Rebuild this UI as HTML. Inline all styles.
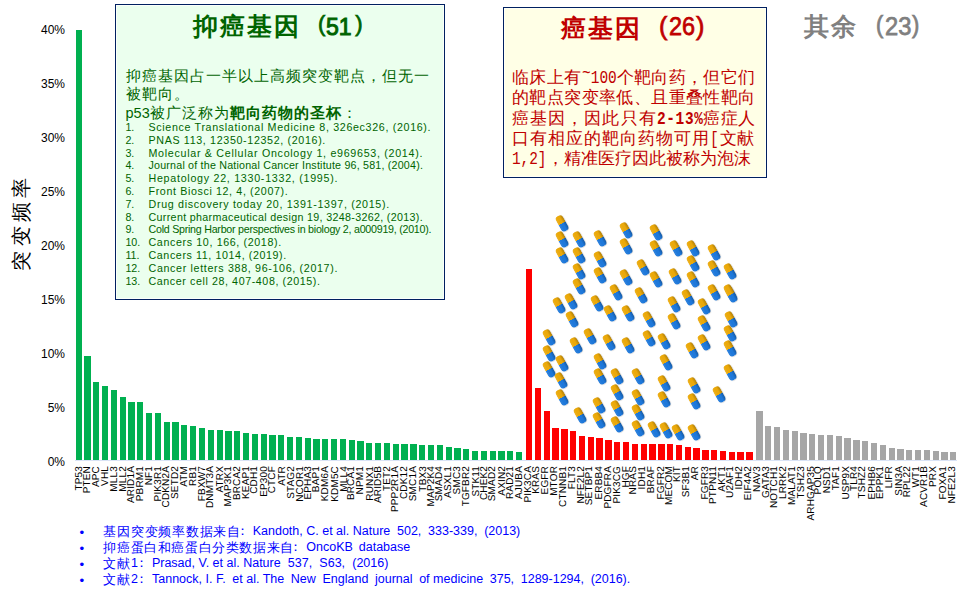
<!DOCTYPE html>
<html lang="zh"><head><meta charset="utf-8"><title>突变频率</title>
<style>
html,body{margin:0;padding:0;background:#fff;}
body{width:960px;height:596px;position:relative;overflow:hidden;font-family:"Liberation Sans",sans-serif;}
.abs{position:absolute;white-space:nowrap;}
.bar{position:absolute;width:6px;}
.g{background:#00B050;}
.r{background:#FF0000;}
.y{background:#A6A6A6;}
.xl{position:absolute;top:466px;height:10px;line-height:10px;font-size:10px;color:#000;white-space:nowrap;transform-origin:100% 0;transform:rotate(-90deg) scaleY(1);text-rendering:geometricPrecision;letter-spacing:0.15px;text-align:right;}
.yl{position:absolute;right:895px;width:40px;text-align:right;font-size:12px;line-height:12px;color:#000;}
.axis{position:absolute;left:75px;top:460px;width:882px;height:1px;background:#D9E3F6;}
.ln{position:absolute;white-space:nowrap;transform-origin:0 50%;}
.pill{position:absolute;width:7.6px;height:16.6px;border-radius:3.8px;margin:-8.3px 0 0 -3.8px;transform:rotate(-29deg);background:linear-gradient(to right,rgba(255,255,255,.10) 0,rgba(255,255,255,0) 35%,rgba(0,0,0,0) 60%,rgba(0,0,0,.25) 100%),linear-gradient(to bottom,#EBA90A 0,#EBA90A 49%,#1E78DA 51%,#1E78DA 100%);box-shadow:0.4px 0.5px 0.8px rgba(70,70,70,.3);}
#gbox{position:absolute;left:115px;top:4px;width:328px;height:294px;border:1px solid #002060;background:#EBFFEE;box-shadow:inset 0 0 0 1px #FBFFFB;}
#rbox{position:absolute;left:503px;top:7px;width:262px;height:169px;border:1px solid #002060;background:#FFFFE6;box-shadow:inset 0 0 0 1px #FFFFF6;}
.gt{color:#006400;font-weight:bold;font-size:25px;line-height:30px;letter-spacing:1.9px;}
.gb{color:#006400;font-size:15px;line-height:18px;letter-spacing:1px;}
.gb i{font-style:normal;letter-spacing:0;font-size:14.5px;}
.gr{color:#006400;font-size:10.7px;line-height:13px;}
.rt{color:#C00000;font-weight:bold;font-size:25px;letter-spacing:2px;line-height:30px;font-family:"Liberation Serif",serif;}
.rb{color:#C00000;font-size:17px;line-height:20px;font-family:"Liberation Serif",serif;}
.ot{color:#808080;font-weight:bold;font-size:25px;letter-spacing:2px;line-height:30px;font-family:"Liberation Serif",serif;}
.tl{font-weight:normal !important;-webkit-text-stroke:0.75px currentColor;}
.tn{font-family:"Liberation Sans",sans-serif;font-weight:bold;font-size:26.67px;letter-spacing:0;transform-origin:0 50%;}
.mo{position:absolute;white-space:nowrap;font-family:"Liberation Mono",monospace;font-size:18px;line-height:20px;color:#C00000;transform-origin:0 50%;transform:scaleX(0.8025);}
.fn{color:#0000FF;font-size:13.33px;line-height:16px;}
.fc{font-size:13px;}
.fl{font-size:12.5px;}
.yt{position:absolute;left:21.4px;top:221.5px;width:0;height:0;}
.yt span{position:absolute;white-space:nowrap;font-size:20px;line-height:20px;letter-spacing:4.3px;color:#000;transform:translate(-50%,-50%) rotate(-90deg);}
</style></head><body>
<div class="yl" style="top:23.5px">40%</div>
<div class="yl" style="top:77.5px">35%</div>
<div class="yl" style="top:131.5px">30%</div>
<div class="yl" style="top:185.5px">25%</div>
<div class="yl" style="top:239.5px">20%</div>
<div class="yl" style="top:293.5px">15%</div>
<div class="yl" style="top:347.5px">10%</div>
<div class="yl" style="top:401.5px">5%</div>
<div class="yl" style="top:455.5px">0%</div>
<div class="yt"><span>突变频率</span></div>
<div class="axis"></div>
<div class="bar g" style="left:76px;width:6px;top:30px;height:430px"></div><div class="bar g" style="left:84px;width:7px;top:356px;height:104px"></div><div class="bar g" style="left:93px;width:6px;top:382px;height:78px"></div><div class="bar g" style="left:102px;width:6px;top:386px;height:74px"></div><div class="bar g" style="left:111px;width:6px;top:390px;height:70px"></div><div class="bar g" style="left:120px;width:6px;top:397px;height:63px"></div><div class="bar g" style="left:128px;width:7px;top:402px;height:58px"></div><div class="bar g" style="left:137px;width:6px;top:402px;height:58px"></div><div class="bar g" style="left:146px;width:6px;top:413px;height:47px"></div><div class="bar g" style="left:155px;width:6px;top:413px;height:47px"></div><div class="bar g" style="left:164px;width:6px;top:422px;height:38px"></div><div class="bar g" style="left:172px;width:7px;top:422px;height:38px"></div><div class="bar g" style="left:181px;width:6px;top:425px;height:35px"></div><div class="bar g" style="left:190px;width:6px;top:426px;height:34px"></div><div class="bar g" style="left:199px;width:6px;top:428px;height:32px"></div><div class="bar g" style="left:208px;width:6px;top:430px;height:30px"></div><div class="bar g" style="left:217px;width:6px;top:430px;height:30px"></div><div class="bar g" style="left:225px;width:7px;top:431px;height:29px"></div><div class="bar g" style="left:234px;width:6px;top:431px;height:29px"></div><div class="bar g" style="left:243px;width:6px;top:433px;height:27px"></div><div class="bar g" style="left:252px;width:6px;top:434px;height:26px"></div><div class="bar g" style="left:261px;width:6px;top:434px;height:26px"></div><div class="bar g" style="left:269px;width:7px;top:435px;height:25px"></div><div class="bar g" style="left:278px;width:6px;top:435px;height:25px"></div><div class="bar g" style="left:287px;width:6px;top:437px;height:23px"></div><div class="bar g" style="left:296px;width:6px;top:437px;height:23px"></div><div class="bar g" style="left:305px;width:6px;top:438px;height:22px"></div><div class="bar g" style="left:313px;width:7px;top:439px;height:21px"></div><div class="bar g" style="left:322px;width:6px;top:439px;height:21px"></div><div class="bar g" style="left:331px;width:6px;top:439px;height:21px"></div><div class="bar g" style="left:340px;width:6px;top:439px;height:21px"></div><div class="bar g" style="left:349px;width:6px;top:440px;height:20px"></div><div class="bar g" style="left:357px;width:7px;top:441px;height:19px"></div><div class="bar g" style="left:366px;width:6px;top:443px;height:17px"></div><div class="bar g" style="left:375px;width:6px;top:443px;height:17px"></div><div class="bar g" style="left:384px;width:6px;top:443px;height:17px"></div><div class="bar g" style="left:393px;width:6px;top:444px;height:16px"></div><div class="bar g" style="left:401px;width:7px;top:444px;height:16px"></div><div class="bar g" style="left:410px;width:7px;top:444px;height:16px"></div><div class="bar g" style="left:419px;width:6px;top:445px;height:15px"></div><div class="bar g" style="left:428px;width:6px;top:445px;height:15px"></div><div class="bar g" style="left:437px;width:6px;top:445px;height:15px"></div><div class="bar g" style="left:446px;width:6px;top:447px;height:13px"></div><div class="bar g" style="left:454px;width:7px;top:448px;height:12px"></div><div class="bar g" style="left:463px;width:6px;top:449px;height:11px"></div><div class="bar g" style="left:472px;width:6px;top:451px;height:9px"></div><div class="bar g" style="left:481px;width:6px;top:451px;height:9px"></div><div class="bar g" style="left:490px;width:6px;top:451px;height:9px"></div><div class="bar g" style="left:498px;width:7px;top:451px;height:9px"></div><div class="bar g" style="left:507px;width:6px;top:451px;height:9px"></div><div class="bar g" style="left:516px;width:6px;top:452px;height:8px"></div><div class="bar r" style="left:526px;width:6px;top:269px;height:191px"></div><div class="bar r" style="left:535px;width:6px;top:388px;height:72px"></div><div class="bar r" style="left:544px;width:6px;top:411px;height:49px"></div><div class="bar r" style="left:552px;width:7px;top:428px;height:32px"></div><div class="bar r" style="left:561px;width:7px;top:429px;height:31px"></div><div class="bar r" style="left:570px;width:6px;top:431px;height:29px"></div><div class="bar r" style="left:579px;width:6px;top:436px;height:24px"></div><div class="bar r" style="left:588px;width:6px;top:437px;height:23px"></div><div class="bar r" style="left:596px;width:7px;top:438px;height:22px"></div><div class="bar r" style="left:605px;width:7px;top:440px;height:20px"></div><div class="bar r" style="left:614px;width:6px;top:442px;height:18px"></div><div class="bar r" style="left:623px;width:6px;top:442px;height:18px"></div><div class="bar r" style="left:632px;width:6px;top:444px;height:16px"></div><div class="bar r" style="left:641px;width:6px;top:444px;height:16px"></div><div class="bar r" style="left:649px;width:7px;top:444px;height:16px"></div><div class="bar r" style="left:658px;width:7px;top:444px;height:16px"></div><div class="bar r" style="left:667px;width:6px;top:444px;height:16px"></div><div class="bar r" style="left:676px;width:6px;top:445px;height:15px"></div><div class="bar r" style="left:685px;width:6px;top:447px;height:13px"></div><div class="bar r" style="left:693px;width:7px;top:448px;height:12px"></div><div class="bar r" style="left:702px;width:7px;top:450px;height:10px"></div><div class="bar r" style="left:711px;width:6px;top:450px;height:10px"></div><div class="bar r" style="left:720px;width:6px;top:451px;height:9px"></div><div class="bar r" style="left:729px;width:6px;top:452px;height:8px"></div><div class="bar r" style="left:737px;width:7px;top:452px;height:8px"></div><div class="bar r" style="left:746px;width:7px;top:452px;height:8px"></div><div class="bar y" style="left:756px;width:7px;top:411px;height:49px"></div><div class="bar y" style="left:765px;width:6px;top:426px;height:34px"></div><div class="bar y" style="left:774px;width:6px;top:427px;height:33px"></div><div class="bar y" style="left:783px;width:6px;top:430px;height:30px"></div><div class="bar y" style="left:792px;width:6px;top:431px;height:29px"></div><div class="bar y" style="left:800px;width:7px;top:433px;height:27px"></div><div class="bar y" style="left:809px;width:6px;top:434px;height:26px"></div><div class="bar y" style="left:818px;width:6px;top:435px;height:25px"></div><div class="bar y" style="left:827px;width:6px;top:435px;height:25px"></div><div class="bar y" style="left:836px;width:6px;top:436px;height:24px"></div><div class="bar y" style="left:844px;width:7px;top:438px;height:22px"></div><div class="bar y" style="left:853px;width:7px;top:440px;height:20px"></div><div class="bar y" style="left:862px;width:6px;top:441px;height:19px"></div><div class="bar y" style="left:871px;width:6px;top:443px;height:17px"></div><div class="bar y" style="left:880px;width:6px;top:445px;height:15px"></div><div class="bar y" style="left:889px;width:6px;top:448px;height:12px"></div><div class="bar y" style="left:897px;width:7px;top:449px;height:11px"></div><div class="bar y" style="left:906px;width:6px;top:450px;height:10px"></div><div class="bar y" style="left:915px;width:6px;top:450px;height:10px"></div><div class="bar y" style="left:924px;width:6px;top:450px;height:10px"></div><div class="bar y" style="left:933px;width:6px;top:451px;height:9px"></div><div class="bar y" style="left:941px;width:7px;top:452px;height:8px"></div><div class="bar y" style="left:950px;width:6px;top:452px;height:8px"></div>
<div class="xl" style="right:885.70px">TP53</div><div class="xl" style="right:876.70px">PTEN</div><div class="xl" style="right:867.70px">APC</div><div class="xl" style="right:858.70px">VHL</div><div class="xl" style="right:850.70px">MLL3</div><div class="xl" style="right:841.70px">MLL2</div><div class="xl" style="right:832.70px">ARID1A</div><div class="xl" style="right:823.70px">PBRM1</div><div class="xl" style="right:814.70px">NF1</div><div class="xl" style="right:805.70px">PIK3R1</div><div class="xl" style="right:797.70px">CDKN2A</div><div class="xl" style="right:788.70px">SETD2</div><div class="xl" style="right:779.70px">ATM</div><div class="xl" style="right:770.70px">RB1</div><div class="xl" style="right:761.70px">FBXW7</div><div class="xl" style="right:753.70px">DNMT3A</div><div class="xl" style="right:744.70px">ATRX</div><div class="xl" style="right:735.70px">MAP3K1</div><div class="xl" style="right:726.70px">BRCA2</div><div class="xl" style="right:717.70px">KEAP1</div><div class="xl" style="right:709.70px">CDH1</div><div class="xl" style="right:700.70px">EP300</div><div class="xl" style="right:691.70px">CTCF</div><div class="xl" style="right:682.70px">ATR</div><div class="xl" style="right:673.70px">STAG2</div><div class="xl" style="right:664.70px">NCOR1</div><div class="xl" style="right:656.70px">EPHA3</div><div class="xl" style="right:647.70px">BAP1</div><div class="xl" style="right:638.70px">KDM6A</div><div class="xl" style="right:629.70px">KDM5C</div><div class="xl" style="right:620.70px">MLL4</div><div class="xl" style="right:612.70px">BRCA1</div><div class="xl" style="right:603.70px">NPM1</div><div class="xl" style="right:594.70px">RUNX1</div><div class="xl" style="right:585.70px">ARID5B</div><div class="xl" style="right:576.70px">TET2</div><div class="xl" style="right:568.70px">PPP2R1A</div><div class="xl" style="right:559.70px">CDK12</div><div class="xl" style="right:550.70px">SMC1A</div><div class="xl" style="right:541.70px">TBX3</div><div class="xl" style="right:532.70px">MAP2K4</div><div class="xl" style="right:524.70px">SMAD4</div><div class="xl" style="right:515.70px">ASXL1</div><div class="xl" style="right:506.70px">SMC3</div><div class="xl" style="right:497.70px">TGFBR2</div><div class="xl" style="right:488.70px">STK11</div><div class="xl" style="right:479.70px">CHEK2</div><div class="xl" style="right:471.70px">SMAD2</div><div class="xl" style="right:462.70px">AXIN2</div><div class="xl" style="right:453.70px">RAD21</div><div class="xl" style="right:444.70px">AJUBA</div><div class="xl" style="right:435.70px">PIK3CA</div><div class="xl" style="right:427.70px">KRAS</div><div class="xl" style="right:418.70px">EGFR</div><div class="xl" style="right:409.70px">MTOR</div><div class="xl" style="right:400.70px">CTNNB1</div><div class="xl" style="right:391.70px">FLT3</div><div class="xl" style="right:383.70px">NFE2L2</div><div class="xl" style="right:374.70px">SETBP1</div><div class="xl" style="right:365.70px">ERBB4</div><div class="xl" style="right:356.70px">PDGFRA</div><div class="xl" style="right:347.70px">PIK3CG</div><div class="xl" style="right:338.70px">HGF</div><div class="xl" style="right:330.70px">NRAS</div><div class="xl" style="right:321.70px">IDH1</div><div class="xl" style="right:312.70px">BRAF</div><div class="xl" style="right:303.70px">FGFR2</div><div class="xl" style="right:294.70px">MECOM</div><div class="xl" style="right:286.70px">KIT</div><div class="xl" style="right:277.70px">SF3B1</div><div class="xl" style="right:268.70px">AR</div><div class="xl" style="right:259.70px">FGFR3</div><div class="xl" style="right:250.70px">PTPN11</div><div class="xl" style="right:242.70px">AKT1</div><div class="xl" style="right:233.70px">U2AF1</div><div class="xl" style="right:224.70px">IDH2</div><div class="xl" style="right:215.70px">EIF4A2</div><div class="xl" style="right:206.70px">NAV3</div><div class="xl" style="right:197.70px">GATA3</div><div class="xl" style="right:189.70px">NOTCH1</div><div class="xl" style="right:180.70px">LRRK2</div><div class="xl" style="right:171.70px">MALAT1</div><div class="xl" style="right:162.70px">TSHZ3</div><div class="xl" style="right:153.70px">ARHGAP35</div><div class="xl" style="right:145.70px">POLQ</div><div class="xl" style="right:136.70px">NSD1</div><div class="xl" style="right:127.70px">TAF1</div><div class="xl" style="right:118.70px">USP9X</div><div class="xl" style="right:109.70px">TLR4</div><div class="xl" style="right:101.70px">TSHZ2</div><div class="xl" style="right:92.70px">EPHB6</div><div class="xl" style="right:83.70px">EPPK1</div><div class="xl" style="right:74.70px">LIFR</div><div class="xl" style="right:65.70px">SIN3A</div><div class="xl" style="right:56.70px">RPL22</div><div class="xl" style="right:48.70px">WT1</div><div class="xl" style="right:39.70px">ACVR1B</div><div class="xl" style="right:30.70px">PRX</div><div class="xl" style="right:21.70px">FOXA1</div><div class="xl" style="right:12.70px">NFE2L3</div>
<i class="pill" style="left:561.6px;top:223.7px"></i><i class="pill" style="left:561.6px;top:239.5px"></i><i class="pill" style="left:561.6px;top:255.2px"></i><i class="pill" style="left:579.1px;top:239.5px"></i><i class="pill" style="left:579.1px;top:255.2px"></i><i class="pill" style="left:579.1px;top:270.9px"></i><i class="pill" style="left:579.1px;top:286.6px"></i><i class="pill" style="left:599.5px;top:238.6px"></i><i class="pill" style="left:600.1px;top:259.2px"></i><i class="pill" style="left:600.1px;top:274.9px"></i><i class="pill" style="left:625.5px;top:230.4px"></i><i class="pill" style="left:625.5px;top:246.1px"></i><i class="pill" style="left:625.5px;top:277.5px"></i><i class="pill" style="left:643.0px;top:267.1px"></i><i class="pill" style="left:615.8px;top:291.8px"></i><i class="pill" style="left:640.8px;top:295.4px"></i><i class="pill" style="left:559.0px;top:305.1px"></i><i class="pill" style="left:571.1px;top:301.7px"></i><i class="pill" style="left:572.0px;top:319.0px"></i><i class="pill" style="left:596.6px;top:302.9px"></i><i class="pill" style="left:609.7px;top:313.4px"></i><i class="pill" style="left:627.3px;top:313.4px"></i><i class="pill" style="left:648.3px;top:319.0px"></i><i class="pill" style="left:655.3px;top:232.2px"></i><i class="pill" style="left:655.3px;top:247.9px"></i><i class="pill" style="left:675.7px;top:247.9px"></i><i class="pill" style="left:693.2px;top:247.9px"></i><i class="pill" style="left:714.1px;top:252.1px"></i><i class="pill" style="left:693.2px;top:263.6px"></i><i class="pill" style="left:714.1px;top:267.9px"></i><i class="pill" style="left:729.5px;top:270.9px"></i><i class="pill" style="left:655.3px;top:279.3px"></i><i class="pill" style="left:675.1px;top:276.1px"></i><i class="pill" style="left:693.2px;top:279.3px"></i><i class="pill" style="left:714.1px;top:291.8px"></i><i class="pill" style="left:729.6px;top:292.4px"></i><i class="pill" style="left:730.3px;top:294.6px"></i><i class="pill" style="left:687.7px;top:297.3px"></i><i class="pill" style="left:673.6px;top:304.3px"></i><i class="pill" style="left:703.5px;top:306.1px"></i><i class="pill" style="left:674.0px;top:321.3px"></i><i class="pill" style="left:703.8px;top:322.8px"></i><i class="pill" style="left:730.5px;top:318.8px"></i><i class="pill" style="left:549.1px;top:337.3px"></i><i class="pill" style="left:549.1px;top:353.0px"></i><i class="pill" style="left:549.1px;top:368.8px"></i><i class="pill" style="left:562.0px;top:363.1px"></i><i class="pill" style="left:560.8px;top:380.6px"></i><i class="pill" style="left:561.4px;top:396.8px"></i><i class="pill" style="left:575.9px;top:344.8px"></i><i class="pill" style="left:589.8px;top:335.9px"></i><i class="pill" style="left:609.1px;top:341.8px"></i><i class="pill" style="left:627.3px;top:344.8px"></i><i class="pill" style="left:599.7px;top:360.9px"></i><i class="pill" style="left:599.7px;top:376.6px"></i><i class="pill" style="left:617.2px;top:376.6px"></i><i class="pill" style="left:637.5px;top:376.0px"></i><i class="pill" style="left:617.2px;top:392.3px"></i><i class="pill" style="left:638.2px;top:396.8px"></i><i class="pill" style="left:599.1px;top:405.0px"></i><i class="pill" style="left:617.2px;top:408.2px"></i><i class="pill" style="left:638.2px;top:412.5px"></i><i class="pill" style="left:579.7px;top:415.1px"></i><i class="pill" style="left:599.1px;top:420.7px"></i><i class="pill" style="left:617.2px;top:424.0px"></i><i class="pill" style="left:638.2px;top:428.2px"></i><i class="pill" style="left:648.5px;top:337.9px"></i><i class="pill" style="left:663.6px;top:341.2px"></i><i class="pill" style="left:691.8px;top:349.8px"></i><i class="pill" style="left:703.7px;top:342.4px"></i><i class="pill" style="left:729.9px;top:332.9px"></i><i class="pill" style="left:729.9px;top:348.6px"></i><i class="pill" style="left:665.8px;top:362.7px"></i><i class="pill" style="left:729.9px;top:372.6px"></i><i class="pill" style="left:663.6px;top:383.7px"></i><i class="pill" style="left:693.4px;top:385.5px"></i><i class="pill" style="left:719.0px;top:394.7px"></i><i class="pill" style="left:663.6px;top:399.4px"></i><i class="pill" style="left:693.4px;top:401.2px"></i><i class="pill" style="left:653.7px;top:429.4px"></i><i class="pill" style="left:665.6px;top:430.6px"></i><i class="pill" style="left:677.9px;top:432.4px"></i><i class="pill" style="left:693.4px;top:432.4px"></i>
<div id="gbox"></div>
<div class="abs gt" id="gt1" style="left:193px;top:11px;">抑癌基因</div><div class="abs gt tn tl" id="gt2" style="font-size:22px;left:318px;top:9.2px;">(</div><div class="abs gt tn tl" id="gt3" style="-webkit-text-stroke-width:1px;font-size:24px;left:326.3px;top:12px;transform:scaleX(0.96)">51</div><div class="abs gt tn tl" id="gt4" style="font-size:22px;left:355.3px;top:9.2px;">)</div>
<div class="abs gb" id="gb1" style="left:125.5px;top:66.5px;">抑癌基因占一半以上高频突变靶点，但无一</div>
<div class="abs gb" id="gb2" style="left:125.5px;top:84.7px;">被靶向。</div>
<div class="abs gb" id="gb3" style="left:125.5px;top:104px;"><i>p53</i>被广泛称为<b>靶向药物的圣杯</b>：</div>
<div class="ln gr" id="rn0" style="left:125.4px;top:120.9px;transform:scaleX(1.0000)">1.</div><div class="ln gr" id="rf0" style="left:148.5px;top:120.9px;letter-spacing:0.662px">Science Translational Medicine 8, 326ec326, (2016).</div>
<div class="ln gr" id="rn1" style="left:125.4px;top:133.7px;transform:scaleX(1.0000)">2.</div><div class="ln gr" id="rf1" style="left:148.5px;top:133.7px;letter-spacing:0.655px">PNAS 113, 12350-12352, (2016).</div>
<div class="ln gr" id="rn2" style="left:125.4px;top:146.5px;transform:scaleX(1.0000)">3.</div><div class="ln gr" id="rf2" style="left:148.5px;top:146.5px;letter-spacing:0.706px">Molecular &amp; Cellular Oncology 1, e969653, (2014).</div>
<div class="ln gr" id="rn3" style="left:125.4px;top:159.3px;transform:scaleX(1.0000)">4.</div><div class="ln gr" id="rf3" style="left:148.5px;top:159.3px;letter-spacing:0.200px">Journal of the National Cancer Institute 96, 581, (2004).</div>
<div class="ln gr" id="rn4" style="left:125.4px;top:172.1px;transform:scaleX(1.0000)">5.</div><div class="ln gr" id="rf4" style="left:148.5px;top:172.1px;letter-spacing:0.722px">Hepatology 22, 1330-1332, (1995).</div>
<div class="ln gr" id="rn5" style="left:125.4px;top:184.9px;transform:scaleX(1.0000)">6.</div><div class="ln gr" id="rf5" style="left:148.5px;top:184.9px;letter-spacing:0.623px">Front Biosci 12, 4, (2007).</div>
<div class="ln gr" id="rn6" style="left:125.4px;top:197.7px;transform:scaleX(1.0000)">7.</div><div class="ln gr" id="rf6" style="left:148.5px;top:197.7px;letter-spacing:0.681px">Drug discovery today 20, 1391-1397, (2015).</div>
<div class="ln gr" id="rn7" style="left:125.4px;top:210.5px;transform:scaleX(1.0000)">8.</div><div class="ln gr" id="rf7" style="left:148.5px;top:210.5px;letter-spacing:0.333px">Current pharmaceutical design 19, 3248-3262, (2013).</div>
<div class="ln gr" id="rn8" style="left:125.4px;top:223.3px;transform:scaleX(1.0000)">9.</div><div class="ln gr" id="rf8" style="left:148.5px;top:223.3px;letter-spacing:-0.260px">Cold Spring Harbor perspectives in biology 2, a000919, (2010).</div>
<div class="ln gr" id="rn9" style="left:125.4px;top:236.1px;transform:scaleX(1.0000)">10.</div><div class="ln gr" id="rf9" style="left:148.5px;top:236.1px;letter-spacing:0.628px">Cancers 10, 166, (2018).</div>
<div class="ln gr" id="rn10" style="left:125.4px;top:248.9px;transform:scaleX(1.0000)">11.</div><div class="ln gr" id="rf10" style="left:148.5px;top:248.9px;letter-spacing:0.597px">Cancers 11, 1014, (2019).</div>
<div class="ln gr" id="rn11" style="left:125.4px;top:261.7px;transform:scaleX(1.0000)">12.</div><div class="ln gr" id="rf11" style="left:148.5px;top:261.7px;letter-spacing:0.664px">Cancer letters 388, 96-106, (2017).</div>
<div class="ln gr" id="rn12" style="left:125.4px;top:274.5px;transform:scaleX(1.0000)">13.</div><div class="ln gr" id="rf12" style="left:148.5px;top:274.5px;letter-spacing:0.585px">Cancer cell 28, 407-408, (2015).</div>
<div id="rbox"></div>
<div class="abs rt" id="rt1" style="left:561px;top:14px;">癌基因</div><div class="abs rt tn tl" id="rt2" style="left:659px;top:11px;transform:scaleX(0.95)">(</div><div class="abs rt tn tl" id="rt3" style="left:668.5px;top:11px;transform:scaleX(0.88)">26</div><div class="abs rt tn tl" id="rt4" style="left:696px;top:11px;transform:scaleX(0.95)">)</div>
<div class="ln rb" style="left:512.10px;top:68.0px;letter-spacing:0.400px">临床上有</div><div class="mo" style="left:581.70px;top:68.0px;letter-spacing:0.041px"><span style="position:relative;top:-5px">~</span>100</div><div class="ln rb" style="left:616.50px;top:68.0px;letter-spacing:0.400px">个靶向药，但它们</div>
<div class="ln rb" style="left:512.10px;top:88.3px;letter-spacing:0.400px">的靶点突变率低、且重叠性靶向</div>
<div class="ln rb" style="left:512.10px;top:108.6px;letter-spacing:1.080px">癌基因，因此只有</div><div class="mo" style="left:656.74px;top:108.6px;font-weight:bold;letter-spacing:0.789px">2-13%</div><div class="ln rb" style="left:703.24px;top:108.6px;letter-spacing:0.400px">癌症人</div>
<div class="ln rb" style="left:512.10px;top:128.9px;letter-spacing:1.000px">口有相应的靶向药物可用</div><div class="mo" style="left:710.10px;top:128.9px;letter-spacing:1.163px">[</div><div class="ln rb" style="left:719.70px;top:128.9px;letter-spacing:0.400px">文献</div>
<div class="mo" style="left:512.10px;top:149.2px;letter-spacing:-0.083px">1,2]</div><div class="ln rb" style="left:546.50px;top:149.2px;letter-spacing:0.070px">，精准医疗因此被称为泡沫</div>
<div class="abs ot" id="ot1" style="left:804px;top:12px;">其余</div><div class="abs ot tn tl" id="ot2" style="font-size:23px;left:875.6px;top:9.8px;transform:scaleX(0.95)">(</div><div class="abs ot tn tl" id="ot3" style="font-size:25.5px;left:884.5px;top:11px;transform:scaleX(0.93)">23</div><div class="abs ot tn tl" id="ot4" style="font-size:23px;left:912px;top:9.8px;transform:scaleX(0.95)">)</div>
<div class="abs fn" style="left:79.5px;top:524.6px;">•</div><div class="abs fn fc" style="left:103.4px;top:523.9px;letter-spacing:0.75px">基因突变频率数据来自</div><div class="abs fn fc" style="left:236.00px;top:523.2px;">：</div><div class="abs fn fl" id="fn0" style="left:252.7px;top:523.2px;">Kandoth, C. et al. Nature<span style="word-spacing:3.236px"> </span>502,<span style="word-spacing:3.236px"> </span>333-339,<span style="word-spacing:3.236px"> </span>(2013)</div>
<div class="abs fn" style="left:79.5px;top:540.7px;">•</div><div class="abs fn fc" style="left:103.4px;top:539.9px;letter-spacing:0.60px">抑癌蛋白和癌蛋白分类数据来自</div><div class="abs fn fc" style="left:289.15px;top:539.3px;">：</div><div class="abs fn fl" id="fn1" style="left:306.3px;top:539.3px;">OncoKB<span style="word-spacing:2.416px"> </span>database</div>
<div class="abs fn" style="left:79.5px;top:556.8px;">•</div><div class="abs fn fc" style="left:103.4px;top:556.0px;letter-spacing:1.10px">文献</div><div class="abs fn fl" style="left:131.1px;top:555.4px;">1</div><div class="abs fn fc" style="left:135.15px;top:555.4px;">：</div><div class="abs fn fl" id="fn2" style="left:151.9px;top:555.4px;">Prasad, V. et al. Nature<span style="word-spacing:3.687px"> </span>537,<span style="word-spacing:3.687px"> </span>S63,<span style="word-spacing:3.687px"> </span>(2016)</div>
<div class="abs fn" style="left:79.5px;top:572.8px;">•</div><div class="abs fn fc" style="left:103.4px;top:572.0px;letter-spacing:1.10px">文献</div><div class="abs fn fl" style="left:131.1px;top:571.4px;">2</div><div class="abs fn fc" style="left:135.15px;top:571.4px;">：</div><div class="abs fn fl" id="fn3" style="left:152.0px;top:571.4px;">Tannock, I. F.<span style="word-spacing:3.162px"> </span>et al. The<span style="word-spacing:3.162px"> </span>New<span style="word-spacing:3.162px"> </span>England<span style="word-spacing:3.162px"> </span>journal<span style="word-spacing:3.162px"> </span>of medicine<span style="word-spacing:3.162px"> </span>375,<span style="word-spacing:3.162px"> </span>1289-1294,<span style="word-spacing:3.162px"> </span>(2016).</div>
</body></html>
